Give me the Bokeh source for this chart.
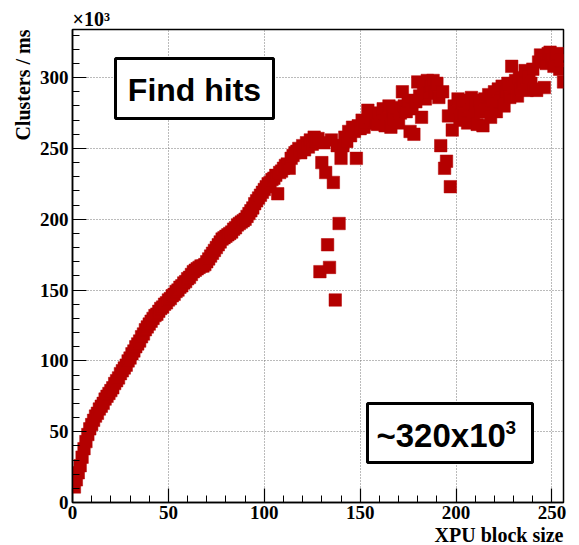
import math
from bokeh.plotting import figure
from bokeh.models import (Range1d, SingleIntervalTicker, Label, BoxAnnotation,
                          ColumnDataSource, Title)
from bokeh.embed import file_html
from bokeh.resources import INLINE

# XPU block size (1..256)
block_size = list(range(1, 257))

# Clusters / ms, in units of 10^3
clusters_k = [
    11, 16, 21, 26, 32, 38, 43, 48, 52, 55,
    58, 61, 63, 66, 68, 70, 73, 75, 77, 79,
    81, 84, 86, 88, 91, 93, 95, 97, 100, 102,
    105, 107, 110, 112, 114, 117, 119, 122, 124, 126,
    128, 130, 132, 133, 135, 137, 138, 140, 141, 143,
    144, 146, 147, 149, 150, 152, 153, 155, 156, 158,
    159, 161, 163, 164, 165, 166, 167, 167, 168, 170,
    172, 174, 176, 178, 180, 182, 184, 186, 187, 188,
    189, 190, 191, 193, 194, 196, 197, 198, 199, 200,
    202, 204, 206, 208, 211, 213, 215, 217, 219, 221,
    223, 225, 226, 228, 229, 231, 218, 233, 234, 236,
    238, 239, 236, 243, 245, 247, 248, 250, 247, 252,
    249, 254, 251, 256, 253, 258, 255, 257, 163, 240,
    254, 233, 182, 166, 256, 226, 143, 252, 197, 243,
    252, 258, 255, 262, 259, 265, 262, 243, 266, 264,
    270, 265, 268, 277, 272, 268, 274, 270, 267, 275,
    270, 278, 266, 274, 280, 265, 276, 271, 279, 268,
    275, 290, 280, 276, 284, 262, 278, 260, 283, 297,
    287, 272, 292, 285, 298, 289, 294, 298, 290, 296,
    286, 252, 290, 236, 241, 273, 223, 263, 280, 276,
    285, 270, 282, 274, 284, 268, 280, 286, 273, 281,
    267, 284, 276, 266, 285, 278, 288, 272, 284, 290,
    276, 292, 283, 294, 280, 290, 296, 286, 308, 293,
    298, 287, 300, 292, 297, 305, 291, 300, 296, 306,
    292, 291, 311, 316, 313, 293, 310, 317, 318, 313,
    308, 316, 317, 306, 312, 297,
]

x_label = "XPU block size"
y_label = "Clusters / ms"
multiplier = "\u00d710\u00b3"
box1_text = "Find hits"
box2_text = "~320x10"
exp_text = "3"

SERIF = "Liberation Serif"
SANS = "Liberation Sans"
RED = "#b40000"

p = figure(width=579, height=545, output_backend="svg", toolbar_location=None,
           x_range=Range1d(0, 256), y_range=Range1d(0, 334),
           min_border_left=72, min_border_right=16, min_border_top=29,
           min_border_bottom=42)
p.background_fill_color = "white"
p.border_fill_color = "white"
p.outline_line_color = "black"
p.outline_line_width = 1.5

for ax in (p.xaxis, p.yaxis):
    ax.major_tick_in = 14
    ax.major_tick_out = 0
    ax.minor_tick_in = 7
    ax.minor_tick_out = 0
    ax.axis_line_width = 1.5
    ax.axis_line_color = "black"
    ax.major_tick_line_color = "black"
    ax.minor_tick_line_color = "black"
    ax.major_tick_line_width = 1.2
    ax.major_label_text_font = SERIF
    ax.major_label_text_font_style = "bold"
    ax.major_label_text_font_size = "19px"
    ax.major_label_text_color = "black"

p.xaxis.ticker = SingleIntervalTicker(interval=50, num_minor_ticks=5)
p.yaxis.ticker = SingleIntervalTicker(interval=50, num_minor_ticks=5)
p.xaxis.major_label_standoff = 3
p.yaxis.major_label_standoff = 4
p.xgrid.ticker = SingleIntervalTicker(interval=50)
p.ygrid.ticker = SingleIntervalTicker(interval=50)
for g in (p.xgrid, p.ygrid):
    g.grid_line_color = "#777777"
    g.grid_line_dash = "1 2"
    g.grid_line_width = 1

src = ColumnDataSource(dict(x=block_size, y=clusters_k))
p.scatter("x", "y", source=src, marker="square", size=12.5,
          fill_color=RED, line_color=RED, line_width=0.5)

# Text boxes
p.add_layout(BoxAnnotation(left=43, right=201, bottom=384, top=444,
                           left_units="screen", right_units="screen",
                           bottom_units="screen", top_units="screen",
                           fill_color="white", fill_alpha=1.0,
                           line_color="black", line_alpha=1.0, line_width=3))
p.add_layout(Label(x=122, y=413, x_units="screen", y_units="screen",
                   text=box1_text, text_font=SANS, text_font_style="bold",
                   text_font_size="32px", text_align="center",
                   text_baseline="middle", text_color="black"))

p.add_layout(BoxAnnotation(left=295, right=460, bottom=40, top=99,
                           left_units="screen", right_units="screen",
                           bottom_units="screen", top_units="screen",
                           fill_color="white", fill_alpha=1.0,
                           line_color="black", line_alpha=1.0, line_width=3))
p.add_layout(Label(x=304, y=67, x_units="screen", y_units="screen",
                   text=box2_text, text_font=SANS, text_font_style="bold",
                   text_font_size="33px", text_align="left",
                   text_baseline="middle", text_color="black"))
p.add_layout(Label(x=433, y=75, x_units="screen", y_units="screen",
                   text=exp_text, text_font=SANS, text_font_style="bold",
                   text_font_size="19px", text_align="left",
                   text_baseline="middle", text_color="black"))

# Axis titles, ROOT style (right / top aligned)
p.add_layout(Title(text=x_label, align="right", text_font=SERIF,
                   text_font_style="bold", text_font_size="20px",
                   text_color="black", standoff=0, offset=0), "below")
p.add_layout(Title(text=y_label, align="right", text_font=SERIF,
                   text_font_style="bold", text_font_size="20px",
                   text_color="black", standoff=5, offset=0), "left")
p.add_layout(Title(text=multiplier, align="left", text_font=SERIF,
                   text_font_style="bold", text_font_size="20px",
                   text_color="black", standoff=0, offset=0), "above")

open("out.html", "w").write(file_html(p, INLINE))
